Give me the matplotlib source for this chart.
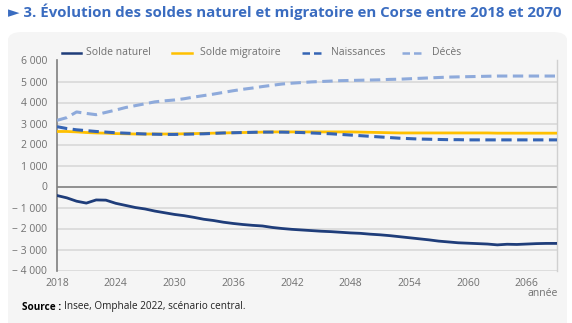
import matplotlib
matplotlib.use("Agg")
import matplotlib.pyplot as plt
from matplotlib.patches import FancyBboxPatch
from matplotlib.lines import Line2D
import numpy as np

plt.rcParams['font.family'] = ['Open Sans', 'DejaVu Sans']

years = list(range(2018, 2071))

solde_naturel = [-430, -540, -700, -790, -640, -650, -800, -900, -1000, -1070,
                 -1170, -1250, -1330, -1390, -1470, -1560, -1620, -1700, -1760, -1810,
                 -1850, -1880, -1950, -2000, -2040, -2070, -2100, -2130, -2150, -2180,
                 -2210, -2230, -2270, -2300, -2340, -2390, -2440, -2490, -2540, -2600,
                 -2640, -2680, -2700, -2720, -2740, -2780, -2750, -2760, -2740, -2720,
                 -2710, -2710, -2700]

solde_migratoire = [2620, 2620, 2600, 2570, 2550, 2540, 2520, 2510, 2500, 2500,
                    2500, 2500, 2500, 2510, 2520, 2530, 2540, 2550, 2560, 2570,
                    2580, 2590, 2600, 2600, 2600, 2600, 2600, 2600, 2600, 2600,
                    2600, 2590, 2580, 2570, 2560, 2550, 2550, 2550, 2550, 2550,
                    2550, 2550, 2550, 2550, 2550, 2540, 2540, 2540, 2540, 2540,
                    2540, 2540, 2540]

naissances = [2850, 2760, 2700, 2660, 2620, 2590, 2560, 2540, 2520, 2500,
              2490, 2480, 2480, 2490, 2500, 2510, 2530, 2550, 2560, 2570,
              2580, 2590, 2590, 2590, 2580, 2570, 2550, 2530, 2510, 2480,
              2450, 2420, 2390, 2360, 2330, 2300, 2280, 2260, 2250, 2240,
              2230, 2230, 2220, 2220, 2220, 2220, 2220, 2220, 2220, 2220,
              2220, 2220, 2220]

deces = [3150, 3280, 3550, 3480, 3420, 3530, 3640, 3760, 3850, 3940,
         4030, 4080, 4120, 4180, 4260, 4330, 4400, 4480, 4560, 4630,
         4690, 4760, 4820, 4880, 4920, 4950, 4980, 5000, 5020, 5040,
         5050, 5060, 5070, 5080, 5100, 5110, 5130, 5150, 5170, 5190,
         5210, 5220, 5230, 5240, 5250, 5260, 5260, 5260, 5260, 5260,
         5260, 5260, 5260]

xticks = [2018, 2024, 2030, 2036, 2042, 2048, 2054, 2060, 2066]
yticks = [6000, 5000, 4000, 3000, 2000, 1000, 0, -1000, -2000, -3000, -4000]

def fmt(v):
    s = f"{abs(v):,}".replace(",", " ")
    return ("\u2212 " + s) if v < 0 else s

c_nat = "#1f3d7a"
c_mig = "#ffc000"
c_nai = "#3564b4"
c_dec = "#8eaadb"
grey_txt = "#707070"

fig = plt.figure(figsize=(5.72, 3.23), dpi=100)
fig.patch.set_facecolor("white")

W, H = 572, 323
panel = FancyBboxPatch((8 / W, -10 / H), (567 - 8) / W, (323 - 32 + 10) / H,
                       boxstyle="round,pad=0,rounding_size=0.025",
                       transform=fig.transFigure, facecolor="#f5f5f5",
                       edgecolor="none", zorder=-10)
fig.add_artist(panel)

ax = fig.add_axes([57 / W, 1 - 270.5 / H, 500 / W, 210 / H])
ax.set_facecolor("none")
ax.set_zorder(1)

ax.plot(years, deces, color=c_dec, lw=2.2, dashes=(3.4, 1.8), zorder=3)
ax.plot(years, naissances, color=c_nai, lw=2.2, dashes=(3.4, 1.8), zorder=4)
ax.plot(years, solde_migratoire, color=c_mig, lw=2.0, zorder=3.5)
ax.plot(years, solde_naturel, color=c_nat, lw=2.0, zorder=5)

ax.set_xlim(2018, 2069.1)
ax.set_ylim(-4000, 6000)
ax.set_yticks(yticks)
ax.set_yticklabels([fmt(v) for v in yticks])
ax.set_xticks(xticks)
ax.set_xticklabels([str(v) for v in xticks])
ax.tick_params(length=0, labelsize=7.5, labelcolor=grey_txt, pad=7)
ax.tick_params(axis='x', pad=5.5)

for v in yticks:
    if v != 0:
        ax.axhline(v, color="#d6d6d6", lw=1.1, zorder=1)
ax.axhline(0, color="#7f7f7f", lw=1.2, zorder=2)

for s in ["top", "bottom"]:
    ax.spines[s].set_visible(False)
ax.spines["left"].set_color("#7f7f7f")
ax.spines["left"].set_linewidth(1.2)
ax.spines["right"].set_color("#d0d0d0")
ax.spines["right"].set_linewidth(1.0)

# Title
fig.text(8 / W, 1 - 12 / H, "\u25BA 3. \u00C9volution des soldes naturel et migratoire en Corse entre 2018 et 2070",
         fontsize=10.8, fontweight="bold", color="#3a6cc0", va="center", ha="left")

# Legend
ly = 1 - 52.5 / H
entries = [
    (62, 81, 86, "Solde naturel", c_nat, None),
    (172, 192, 200, "Solde migratoire", c_mig, None),
    (302, 325, 331, "Naissances", c_nai, (3.0, 1.6)),
    (402, 424, 432, "Décès", c_dec, (3.0, 1.6)),
]
for x0, x1, xt, lab, col, dsh in entries:
    ln = Line2D([x0 / W, x1 / W], [ly, ly], transform=fig.transFigure,
                color=col, lw=1.8)
    if dsh:
        ln.set_dashes(dsh)
    fig.add_artist(ln)
    fig.text(xt / W, ly, lab, fontsize=7.5, color=grey_txt, va="center", ha="left")

fig.text(543 / W, 1 - 294 / H, "année", fontsize=7.5, color=grey_txt, ha="center", va="center")

fig.text(22 / W, 1 - 307 / H, "Source :", fontsize=7.2, fontweight="bold", color="black",
         ha="left", va="center")
fig.text(64 / W, 1 - 307 / H, "Insee, Omphale 2022, scénario central.", fontsize=7.2,
         color="#222222", ha="left", va="center")

fig.savefig("out.png", dpi=100)
